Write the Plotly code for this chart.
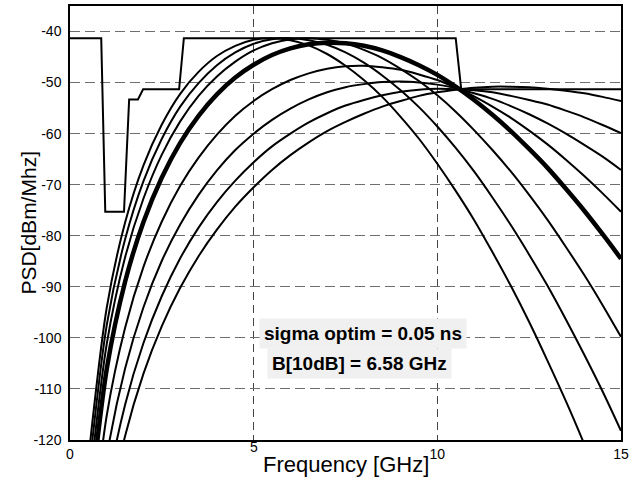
import plotly.graph_objects as go

# Frequency grid [GHz]
freq = [0.5, 1.0, 1.5, 2.0, 2.5, 3.0, 3.5, 4.0, 4.5, 5.0,
        5.5, 6.0, 6.5, 7.0, 7.5, 8.0, 8.5, 9.0, 9.5, 10.0,
        10.5, 11.0, 11.5, 12.0, 12.5, 13.0, 13.5, 14.0, 14.5, 15.0]

# PSD [dBm/MHz] for each pulse width sigma
psd_s065 = [-123.7, -94.1, -77.4, -66.2, -58.2, -52.2, -47.9, -44.8, -42.8, -41.6,
            -41.3, -41.7, -42.7, -44.4, -46.7, -49.5, -52.8, -56.7, -61.0, -65.9,
            -71.2, -76.9, -83.2, -89.8, -96.9, -104.5, -112.4, -120.8, -129.6, -138.8]
psd_s060 = [-127.2, -97.5, -80.7, -69.3, -61.0, -54.7, -50.1, -46.6, -44.1, -42.4,
            -41.5, -41.3, -41.7, -42.6, -44.1, -46.1, -48.6, -51.5, -54.8, -58.6,
            -62.8, -67.4, -72.5, -77.9, -83.7, -89.8, -96.4, -103.3, -110.5, -118.2]
psd_s055 = [-130.9, -101.2, -84.2, -72.7, -64.1, -57.6, -52.6, -48.8, -45.9, -43.7,
            -42.3, -41.5, -41.3, -41.6, -42.3, -43.6, -45.2, -47.3, -49.7, -52.5,
            -55.7, -59.3, -63.2, -67.4, -72.0, -76.9, -82.2, -87.7, -93.6, -99.8]
psd_s050 = [-135.9, -106.1, -89.0, -77.3, -68.6, -61.8, -56.5, -52.3, -49.0, -46.5,
            -44.6, -43.3, -42.5, -42.2, -42.3, -42.8, -43.7, -45.0, -46.6, -48.5,
            -50.8, -53.4, -56.3, -59.5, -63.0, -66.7, -70.8, -75.1, -79.7, -84.5]
psd_s045 = [-145.0, -115.2, -98.0, -86.1, -77.2, -70.2, -64.7, -60.2, -56.5, -53.6,
            -51.3, -49.5, -48.2, -47.3, -46.8, -46.7, -47.0, -47.5, -48.4, -49.5,
            -51.0, -52.7, -54.7, -56.9, -59.4, -62.1, -65.1, -68.3, -71.7, -75.3]
psd_s040 = [-153.2, -123.3, -106.0, -94.0, -84.9, -77.8, -72.0, -67.2, -63.2, -60.0,
            -57.3, -55.1, -53.3, -51.9, -50.9, -50.3, -49.9, -49.8, -50.0, -50.4,
            -51.1, -52.1, -53.2, -54.6, -56.2, -58.0, -60.0, -62.2, -64.5, -67.1]
psd_s035 = [-160.4, -130.4, -113.1, -101.0, -91.8, -84.4, -78.4, -73.4, -69.2, -65.6,
            -62.5, -60.0, -57.8, -56.0, -54.5, -53.4, -52.5, -51.8, -51.4, -51.2,
            -51.3, -51.5, -51.9, -52.6, -53.4, -54.3, -55.5, -56.8, -58.3, -59.9]
psd_s030 = [-166.6, -136.6, -119.2, -107.0, -97.7, -90.2, -84.0, -78.8, -74.3, -70.5,
            -67.1, -64.2, -61.7, -59.5, -57.7, -56.1, -54.7, -53.6, -52.6, -51.9,
            -51.4, -51.0, -50.8, -50.8, -50.9, -51.2, -51.6, -52.1, -52.8, -53.6]

# Spectral mask
mask_f = [0, 0.85, 0.96, 1.47, 1.61, 1.85, 1.99, 2.97, 3.1, 10.5, 10.65, 15]
mask_db = [-41.3, -41.3, -75.3, -75.3, -53.3, -53.3, -51.3, -51.3, -41.3, -41.3, -51.3, -51.3]

x_ticks = [0, 5, 10, 15]
x_ticktext = ["0", "", "10", "15"]
y_ticks = [-120, -110, -100, -90, -80, -70, -60, -50, -40]
y_ticktext = ["-120", "-110", "-100", "-90", "-80", "-70", "-60", "-50", "-40"]

FONT = "Liberation Sans, Arial, sans-serif"

fig = go.Figure()

thin_curves = [psd_s065, psd_s060, psd_s055, psd_s045, psd_s040, psd_s035, psd_s030]
for c in thin_curves:
    fig.add_trace(go.Scatter(x=freq, y=c, mode="lines",
                             line=dict(color="black", width=2, shape="spline", smoothing=0.8),
                             hoverinfo="skip", showlegend=False))
fig.add_trace(go.Scatter(x=freq, y=psd_s050, mode="lines",
                         line=dict(color="black", width=4.5, shape="spline", smoothing=0.8),
                         hoverinfo="skip", showlegend=False))
fig.add_trace(go.Scatter(x=mask_f, y=mask_db, mode="lines",
                         line=dict(color="black", width=2),
                         hoverinfo="skip", showlegend=False))

fig.update_layout(
    width=638, height=486,
    margin=dict(l=70, r=17, t=4, b=46),
    paper_bgcolor="white", plot_bgcolor="white",
    font=dict(family=FONT, size=14, color="black"),
    showlegend=False,
    xaxis=dict(range=[0, 15], tickvals=x_ticks, ticktext=x_ticktext,
               showgrid=True, gridcolor="#444444", griddash="8px,5px", gridwidth=1,
               showline=True, linecolor="black", linewidth=1.5, mirror=True,
               ticks="", ticklabelstandoff=0, zeroline=False,
               tickfont=dict(family=FONT, size=14, color="black")),
    yaxis=dict(range=[-120, -35], tickvals=y_ticks, ticktext=y_ticktext,
               showgrid=True, gridcolor="#6e6e6e", griddash="10px,5px", gridwidth=1,
               showline=True, linecolor="black", linewidth=1.5, mirror=True,
               ticks="", ticklabelstandoff=4, zeroline=False,
               tickfont=dict(family=FONT, size=14, color="black")),
)

# y axis title
fig.add_annotation(x=-0.077, y=0.5, xref="paper", yref="paper", text="PSD[dBm/Mhz]",
                   textangle=-90, showarrow=False, xanchor="center", yanchor="middle",
                   font=dict(family=FONT, size=21, color="black"))
# x tick "5" (slightly raised in the original)
fig.add_annotation(x=5, y=0, xref="x", yref="paper", text="5", showarrow=False,
                   yanchor="top", yshift=3, font=dict(family=FONT, size=14, color="black"))
# x axis title
fig.add_annotation(x=7.5, y=0, xref="x", yref="paper", text="Frequency [GHz]",
                   showarrow=False, yanchor="top", yshift=-10,
                   font=dict(family=FONT, size=22, color="black"))

# Text boxes
fig.add_annotation(x=7.98, y=-99.1, xref="x", yref="y", text="<b>sigma optim = 0.05 ns</b>",
                   showarrow=False, bgcolor="#f0f0f0", borderpad=4,
                   font=dict(family=FONT, size=19, color="black"))
fig.add_annotation(x=7.88, y=-105.0, xref="x", yref="y", text="<b>B[10dB] = 6.58 GHz</b>",
                   showarrow=False, bgcolor="#f0f0f0", borderpad=4,
                   font=dict(family=FONT, size=19, color="black"))

fig.write_html("out.html")
